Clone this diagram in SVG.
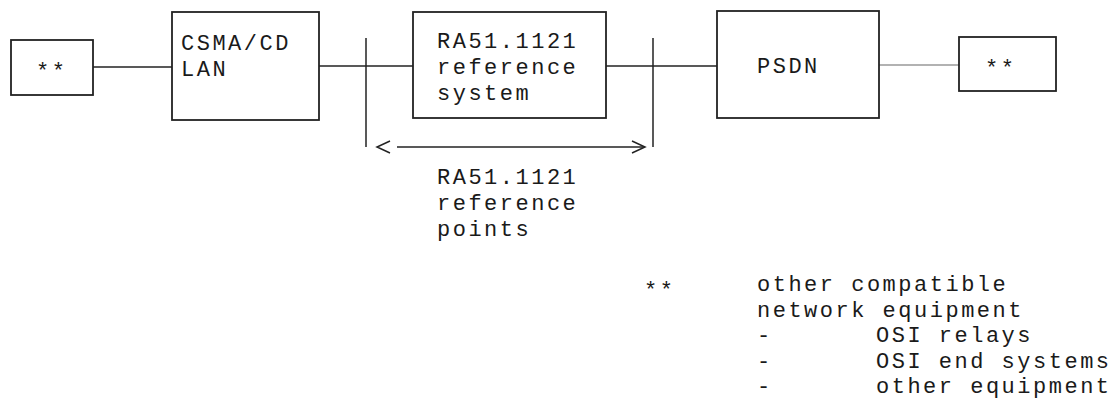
<svg xmlns="http://www.w3.org/2000/svg" width="1113" height="399" viewBox="0 0 1113 399">
<style>
text{font-family:"Liberation Mono","Courier New",monospace;font-size:22px;letter-spacing:2.5px;fill:#1a1a1a}
.box{fill:#fff;stroke:#222;stroke-width:1.8}
.ln{stroke:#222;stroke-width:1.5;fill:none}
.lg{stroke:#999;stroke-width:1.5;fill:none}
</style>
<rect width="1113" height="399" fill="#fff"/>
<g id="connectors">
<line class="ln" x1="93" y1="67" x2="172" y2="67"/>
<line class="ln" x1="319" y1="66" x2="413" y2="66"/>
<line class="ln" x1="606" y1="66" x2="717" y2="66"/>
<line class="lg" x1="879" y1="65" x2="959" y2="65"/>
<line class="ln" x1="366" y1="38" x2="366" y2="147"/>
<line class="ln" x1="653" y1="38" x2="653" y2="147"/>
<polyline class="ln" points="390,141 377,147 390,153"/>
<line class="ln" x1="397" y1="147" x2="644" y2="147"/>
<polyline class="ln" points="632,141 645,147 632,153"/>
</g>
<g id="node-left-star">
<rect class="box" x="11" y="40" width="82" height="55"/>
<text x="36" y="78">**</text>
</g>
<g id="node-csma">
<rect class="box" x="172" y="12" width="147" height="108"/>
<text x="181" y="50">CSMA/CD</text>
<text x="181" y="76">LAN</text>
</g>
<g id="node-ra51">
<rect class="box" x="413" y="12" width="193" height="106"/>
<text x="437" y="48">RA51.1121</text>
<text x="437" y="74">reference</text>
<text x="437" y="100">system</text>
</g>
<g id="node-psdn">
<rect class="box" x="717" y="11" width="162" height="107"/>
<text x="757" y="73">PSDN</text>
</g>
<g id="node-right-star">
<rect class="box" x="959" y="37" width="97" height="54"/>
<text x="985" y="75">**</text>
</g>
<g id="label-points">
<text x="437" y="184">RA51.1121</text>
<text x="437" y="210">reference</text>
<text x="437" y="236">points</text>
</g>
<g id="legend">
<text x="644" y="297">**</text>
<text x="757" y="291">other compatible</text>
<text x="757" y="316.5">network equipment</text>
<text x="757" y="342">-</text>
<text x="876" y="342">OSI relays</text>
<text x="757" y="367.5">-</text>
<text x="876" y="367.5">OSI end systems</text>
<text x="757" y="393">-</text>
<text x="876" y="393">other equipment</text>
</g>
</svg>
